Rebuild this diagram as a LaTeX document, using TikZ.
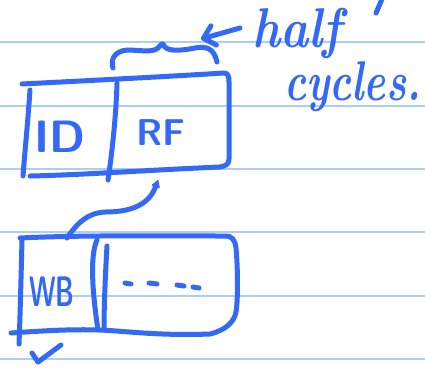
\documentclass[tikz,border=0pt]{standalone}
\usetikzlibrary{arrows.meta}
\definecolor{penblue}{RGB}{52,104,246}
\definecolor{ruleblue}{RGB}{170,205,250}
\tikzset{
  pen/.style={color=penblue, line width=3.75, line cap=round, line join=round},
  ruled/.style={color=ruleblue, line width=1.5},
  hand/.style={text=penblue, font=\fontsize{42}{42}\selectfont\bfseries\itshape, inner sep=0, anchor=base west},
  caps/.style={text=penblue, font=\fontsize{34}{34}\selectfont\sffamily\bfseries, inner sep=0},
}
\begin{document}
\begin{tikzpicture}[x=0.75pt,y=0.75pt,yscale=-1,xscale=1]
\fill [white] (0,0) rectangle (425,369);
\useasboundingbox (0,0) rectangle (425,369);

%Shape: ruled lines
\foreach \ry in {42,106,169,232,296,359}
  \draw [ruled] (0,\ry) -- (425,\ry);

%Shape: upper box
\draw [pen] (22,84) .. controls (80,81) and (160,77) .. (224,73) .. controls (228,73) and (229,76) .. (229,82) -- (229,159) .. controls (229,164) and (226,166) .. (220,167) .. controls (150,170) and (80,175) .. (30,176) ;
\draw [pen] (30,90) .. controls (28,120) and (25,150) .. (23,176) ;
\draw [pen] (117,83) .. controls (116,120) and (111,160) .. (108,180) ;
%Shape: brace
\draw [pen] (113,68) .. controls (110,58) and (116,51) .. (127,50) .. controls (140,50) and (152,53) .. (158,48) .. controls (160,46) and (162,43) .. (163,44) .. controls (165,52) and (180,51) .. (195,48) .. controls (206,46) and (214,48) .. (217,62) ;

%Shape: lower box
\draw [pen] (20,238) .. controls (80,235) and (160,236) .. (226,236) .. controls (232,236) and (235,240) .. (236,248) .. controls (238,270) and (238,300) .. (236,312) .. controls (234,322) and (226,330) .. (210,334) .. controls (160,336) and (125,331) .. (100,330) .. controls (70,329) and (40,331) .. (11,333) ;
\draw [pen] (22,240) .. controls (21,280) and (20,320) .. (19,344) ;
\draw [pen] (97,240) .. controls (90,255) and (92,290) .. (98,330) ;
\draw [pen] (107,246) .. controls (105,280) and (104,310) .. (104,330) ;
%Shape: dashes
\foreach \xa/\xb/\yy in {125/131/283, 149/157/283, 177/184/285, 193/199/287}
  \draw [pen] (\xa,\yy) -- (\xb,\yy+1) ;
%Shape: tick
\draw [pen] (32,353) -- (38,362) -- (61,345) ;
%Shape: mark top right
\draw [pen] (382,-1) -- (376,13) ;

%Text
\node [caps] (id) at (60,137) {ID};
\node [caps, font=\fontsize{28}{28}\selectfont\sffamily\bfseries] (rf) at (161,133) {RF};
\node [caps, font=\fontsize{32}{32}\selectfont\sffamily\bfseries] (wb) at (52,292) {\scalebox{0.6}[1]{WB}};
\node [hand] (half) at (252,47) {\scalebox{0.85}[1]{half}};
\node [hand] (cycles) at (284,100) {\scalebox{0.74}[1]{cycles.}};

%Connectors
\coordinate (arrowtail) at (240,28);
\coordinate (bracetip) at (201,39);
\draw [pen, -{Straight Barb[round, length=8pt, width=15pt]}] (arrowtail) -- (bracetip) ;
\coordinate (wbtop) at (67,238);
\coordinate (rfbot) at (158,180);
\draw [pen, -{Latex[round, length=7pt, width=8pt]}] (wbtop) .. controls (78,222) and (88,213) .. (105,212) .. controls (125,212) and (148,208) .. (rfbot) ;

\end{tikzpicture}
\end{document}
